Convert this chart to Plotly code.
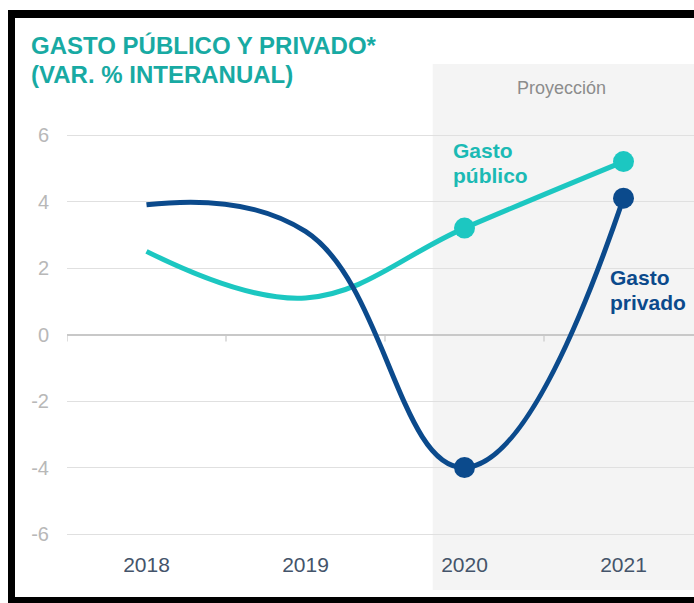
import plotly.graph_objects as go

# ---- data ----
years = ["2018", "2019", "2020", "2021"]
gasto_publico = [2.5, 1.1, 3.2, 5.2]
gasto_privado = [3.9, 3.1, -4.0, 4.1]
y_ticks = [-6, -4, -2, 0, 2, 4, 6]
proj_start = 1.8  # projection shading begins here (category index units)

xi = list(range(len(years)))

# ---- layout geometry (pixels) ----
W, H = 694, 603
L, R, T, B = 67, 694, 64, 540
cat_w = 159.0
px_per_unit = 33.25
x_range = [-0.5, -0.5 + (R - L) / cat_w]
y_range = [-6 - (B - 534) / px_per_unit, 6 + (135 - T) / px_per_unit]


def pxp(px):
    return (px - L) / (R - L)


def pyp(py):
    return (B - py) / (B - T)


def dx(px):
    return x_range[0] + (px - L) / cat_w


def dy(py):
    return y_range[1] - (py - T) / px_per_unit


CYAN = "#1cc7c1"
DARK = "#0b4a8c"
TEAL_TITLE = "#18aaa3"
FONT = "Liberation Sans, Arial, sans-serif"

fig = go.Figure()

fig.add_trace(go.Scatter(x=xi, y=gasto_publico, mode="lines",
                         line=dict(color=CYAN, width=5, shape="spline", smoothing=1.1),
                         hoverinfo="skip", showlegend=False))
fig.add_trace(go.Scatter(x=xi, y=gasto_privado, mode="lines",
                         line=dict(color=DARK, width=5, shape="spline", smoothing=1.25),
                         hoverinfo="skip", showlegend=False))
fig.add_trace(go.Scatter(x=xi[2:], y=gasto_publico[2:], mode="markers",
                         marker=dict(color=CYAN, size=21), hoverinfo="skip", showlegend=False))
fig.add_trace(go.Scatter(x=xi[2:], y=gasto_privado[2:], mode="markers",
                         marker=dict(color=DARK, size=21), hoverinfo="skip", showlegend=False))

shapes = []
# projection shading
shapes.append(dict(type="rect", xref="x", yref="paper", x0=proj_start, x1=x_range[1],
                   y0=pyp(590), y1=1, fillcolor="#f4f4f4", line=dict(width=0), layer="below"))
# category boundary ticks on the zero line
for b in [i - 0.5 for i in range(len(years))]:
    shapes.append(dict(type="line", xref="x", yref="y", ysizemode="pixel", yanchor=0,
                       x0=b, x1=b, y0=0, y1=-7, line=dict(color="#c8c8c8", width=1.2)))
# black frame (top, left, bottom)
shapes.append(dict(type="rect", xref="paper", yref="paper", x0=pxp(8), x1=pxp(W + 5),
                   y0=pyp(18), y1=pyp(10), fillcolor="black", line=dict(width=0)))
shapes.append(dict(type="rect", xref="paper", yref="paper", x0=pxp(8), x1=pxp(15),
                   y0=pyp(H), y1=pyp(10), fillcolor="black", line=dict(width=0)))
shapes.append(dict(type="rect", xref="paper", yref="paper", x0=pxp(8), x1=pxp(W + 5),
                   y0=pyp(H + 5), y1=pyp(597), fillcolor="black", line=dict(width=0)))

annotations = [
    dict(text="GASTO PÚBLICO Y PRIVADO*", xref="paper", yref="paper", x=pxp(29), y=pyp(46),
         xanchor="left", yanchor="middle", showarrow=False,
         font=dict(family=FONT, size=24, color=TEAL_TITLE, weight="bold")),
    dict(text="(VAR. % INTERANUAL)", xref="paper", yref="paper", x=pxp(29), y=pyp(74),
         xanchor="left", yanchor="middle", showarrow=False,
         font=dict(family=FONT, size=24, color=TEAL_TITLE, weight="bold")),
    dict(text="Proyección", xref="paper", yref="paper", x=pxp(561), y=pyp(88),
         xanchor="center", yanchor="middle", showarrow=False,
         font=dict(family=FONT, size=18, color="#8c8c8c")),
    dict(text="Gasto", x=dx(451), y=dy(150), xanchor="left", yanchor="middle", showarrow=False,
         font=dict(family=FONT, size=21, color="#1bbab4", weight="bold")),
    dict(text="público", x=dx(451), y=dy(175), xanchor="left", yanchor="middle", showarrow=False,
         font=dict(family=FONT, size=21, color="#1bbab4", weight="bold")),
    dict(text="Gasto", x=dx(608), y=dy(277), xanchor="left", yanchor="middle", showarrow=False,
         font=dict(family=FONT, size=21, color=DARK, weight="bold")),
    dict(text="privado", x=dx(608), y=dy(302), xanchor="left", yanchor="middle", showarrow=False,
         font=dict(family=FONT, size=21, color=DARK, weight="bold")),
]

fig.update_layout(
    width=W, height=H,
    margin=dict(l=L, r=W - R, t=T, b=H - B, pad=0),
    paper_bgcolor="white", plot_bgcolor="rgba(0,0,0,0)",
    shapes=shapes, annotations=annotations,
    xaxis=dict(range=x_range, tickvals=xi, ticktext=years, showgrid=False, zeroline=False,
               showline=False, ticks="", ticklabelstandoff=10,
               tickfont=dict(family=FONT, size=21, color="#44546a"), fixedrange=True),
    yaxis=dict(range=y_range, tickvals=y_ticks, ticktext=[str(v) for v in y_ticks],
               showgrid=True, gridcolor="#e0e0e0", gridwidth=1,
               zeroline=True, zerolinecolor="#c8c8c8", zerolinewidth=1.5,
               showline=False, ticks="", ticklabelstandoff=17,
               tickfont=dict(family=FONT, size=20, color="#b8b8b8"), fixedrange=True),
)

fig.write_html(
    "out.html",
    config={"displayModeBar": False},
    post_script="document.body.style.margin='0';document.body.style.overflow='hidden';"
                "document.documentElement.style.overflow='hidden';",
)
